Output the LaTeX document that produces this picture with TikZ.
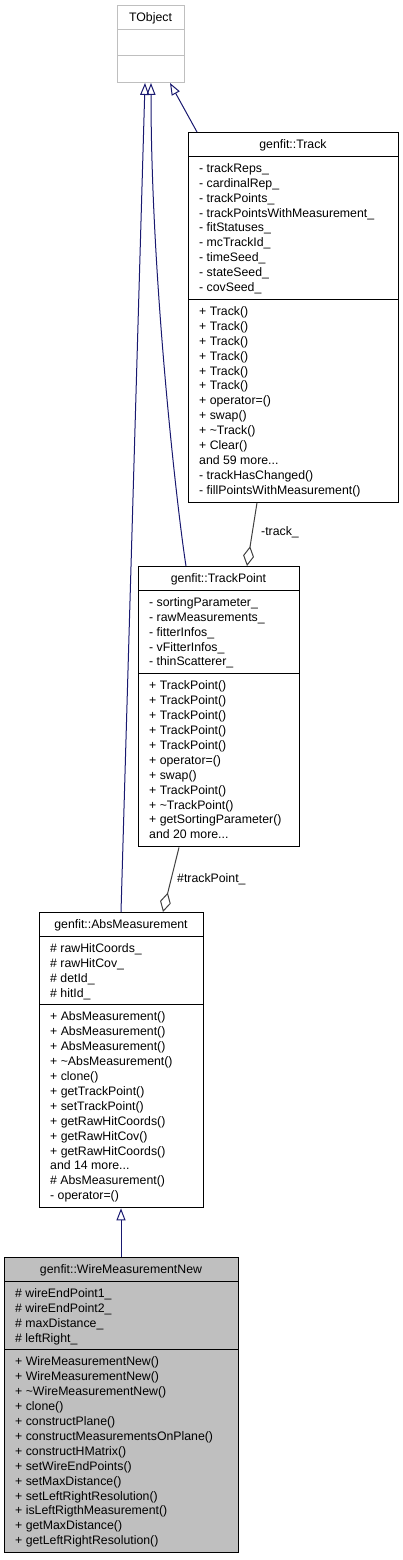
\documentclass[tikz,border=0pt]{standalone}
\usepackage{fontspec}
\setmainfont{Liberation Sans}
\usetikzlibrary{arrows.meta,calc}

\definecolor{edgeblue}{HTML}{191970}
\definecolor{aggrgray}{HTML}{404040}
\definecolor{extgray}{HTML}{BFBFBF}
\definecolor{focusgray}{HTML}{BFBFBF}

\newcommand{\moredots}{...}

\tikzset{
  classbox/.style={draw=black, line width=1pt, inner sep=0pt, anchor=north west},
  extbox/.style={classbox, draw=extgray},
  focusbox/.style={classbox, fill=focusgray},
  classname/.style={anchor=base, inner sep=0pt},
  member/.style={anchor=base west, inner sep=0pt},
  edgelabel/.style={anchor=base west, inner sep=0pt},
  inherit/.style={draw=edgeblue, line width=1pt, -{Triangle[open, length=12pt, width=9pt]}},
  aggr/.style={draw=aggrgray, line width=1pt, {Diamond[open, length=20pt, width=11pt]}-},
}

\begin{document}
\begin{tikzpicture}[x=1pt,y=-1pt,font=\fontsize{12.3}{14.9}\selectfont]
\useasboundingbox (0,0) rectangle (403,1560);

% TObject
\node[extbox, minimum width=67pt, minimum height=77pt] (tobject) at (117,5) {};
\draw[extgray, line width=1pt] (117,30) -- (184,30) (117,56) -- (184,56);
\node[classname] (tobjectname) at (150.5,21.5) {TObject};

% genfit::Track
\node[classbox, minimum width=210pt, minimum height=369.8pt] (track) at (188,132) {};
\draw[line width=1pt] (188,156) -- (398,156) (188,299.1) -- (398,299.1);
\node[classname] (trackname) at (293,148.5) {genfit::Track};
\foreach \m [count=\i] in {- trackReps\_, - cardinalRep\_, - trackPoints\_,
    - trackPointsWithMeasurement\_, - fitStatuses\_, - mcTrackId\_,
    - timeSeed\_, - stateSeed\_, - covSeed\_}
  \node[member] (trackattr\i) at (199,{164.9+(\i-0.5)*14.9}) {\m};
\foreach \m [count=\i] in {+ Track(), + Track(), + Track(), + Track(), + Track(),
    + Track(), + operator=(), + swap(), + \textasciitilde Track(), + Clear(),
    and 59 more\moredots, - trackHasChanged(), - fillPointsWithMeasurement()}
  \node[member] (trackop\i) at (199,{308+(\i-0.5)*14.9}) {\m};

% genfit::TrackPoint
\node[classbox, minimum width=161pt, minimum height=280.4pt] (trackpoint) at (138,566) {};
\draw[line width=1pt] (138,590) -- (299,590) (138,673.5) -- (299,673.5);
\node[classname] (trackpointname) at (218.5,582.5) {genfit::TrackPoint};
\foreach \m [count=\i] in {- sortingParameter\_, - rawMeasurements\_, - fitterInfos\_,
    - vFitterInfos\_, - thinScatterer\_}
  \node[member] (trackpointattr\i) at (149,{598.9+(\i-0.5)*14.9}) {\m};
\foreach \m [count=\i] in {+ TrackPoint(), + TrackPoint(), + TrackPoint(), + TrackPoint(),
    + TrackPoint(), + operator=(), + swap(), + TrackPoint(), + \textasciitilde TrackPoint(),
    + getSortingParameter(), and 20 more\moredots}
  \node[member] (trackpointop\i) at (149,{682.4+(\i-0.5)*14.9}) {\m};

% genfit::AbsMeasurement
\node[classbox, minimum width=164pt, minimum height=295.3pt] (absmeas) at (39,912) {};
\draw[line width=1pt] (39,936) -- (203,936) (39,1004.6) -- (203,1004.6);
\node[classname] (absmeasname) at (121,928.5) {genfit::AbsMeasurement};
\foreach \m [count=\i] in {\# rawHitCoords\_, \# rawHitCov\_, \# detId\_, \# hitId\_}
  \node[member] (absmeasattr\i) at (50,{944.9+(\i-0.5)*14.9}) {\m};
\foreach \m [count=\i] in {+ AbsMeasurement(), + AbsMeasurement(), + AbsMeasurement(),
    + \textasciitilde AbsMeasurement(), + clone(), + getTrackPoint(), + setTrackPoint(),
    + getRawHitCoords(), + getRawHitCov(), + getRawHitCoords(), and 14 more\moredots,
    \# AbsMeasurement(), - operator=()}
  \node[member] (absmeasop\i) at (50,{1013.5+(\i-0.5)*14.9}) {\m};

% genfit::WireMeasurementNew
\node[focusbox, minimum width=234pt, minimum height=295.3pt] (wiremeas) at (4,1257) {};
\draw[line width=1pt] (4,1281) -- (238,1281) (4,1349.6) -- (238,1349.6);
\node[classname] (wiremeasname) at (121,1273.5) {genfit::WireMeasurementNew};
\foreach \m [count=\i] in {\# wireEndPoint1\_, \# wireEndPoint2\_, \# maxDistance\_, \# leftRight\_}
  \node[member] (wiremeasattr\i) at (15,{1289.9+(\i-0.5)*14.9}) {\m};
\foreach \m [count=\i] in {+ WireMeasurementNew(), + WireMeasurementNew(),
    + \textasciitilde WireMeasurementNew(), + clone(), + constructPlane(),
    + constructMeasurementsOnPlane(), + constructHMatrix(), + setWireEndPoints(),
    + setMaxDistance(), + setLeftRightResolution(), + isLeftRigthMeasurement(),
    + getMaxDistance(), + getLeftRightResolution()}
  \node[member] (wiremeasop\i) at (15,{1358.5+(\i-0.5)*14.9}) {\m};

% inheritance
\draw[inherit] ($(track.north west)+(9,0)$) -- ($(tobject.south west)+(53,0)$);
\draw[inherit] ($(trackpoint.north west)+(48,0)$) .. controls +(-8,-50) and +(0,200) .. ($(tobject.south west)+(34,0)$);
\draw[inherit] ($(absmeas.north west)+(82,0)$) -- ($(tobject.south west)+(28,0)$);
\draw[inherit] ($(wiremeas.north west)+(117,0)$) -- ($(absmeas.south west)+(82,0)$);

% usage
\draw[aggr] ($(trackpoint.north west)+(109,0)$) -- ($(track.south west)+(69,0)$);
\node[edgelabel] (tracklabel) at (261,535.4) {-track\_};
\draw[aggr] ($(absmeas.north west)+(124,0)$) -- ($(trackpoint.south west)+(41,0)$);
\node[edgelabel] (trackpointlabel) at (177,882.4) {\#trackPoint\_};
\end{tikzpicture}
\end{document}
